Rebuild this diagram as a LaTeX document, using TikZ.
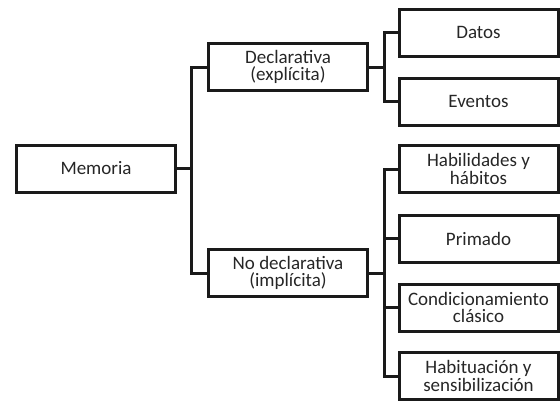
\documentclass[tikz,border=0pt]{standalone}
\usepackage{fontspec}
\setmainfont{Carlito}
\definecolor{linea}{HTML}{1A1A1A}
\definecolor{texto}{HTML}{262626}
\tikzset{
  caja/.style = {draw = linea, line width = 3pt, inner sep = 0pt,
                 minimum width = 159pt, minimum height = 47pt,
                 align = center, text = texto,
                 font = \fontsize{19}{17.5}\selectfont},
  rama/.style = {draw = linea, line width = 3pt, line cap = rect}
}
\begin{document}
\begin{tikzpicture}[x = 1pt, y = -1pt]
            \useasboundingbox (0, 0) rectangle (560, 400);

            \node [caja] (mem)    at (96, 168.5) {Memoria};
            \node [caja] (decl)   at (288, 67)   {Declarativa\\(explícita)};
            \node [caja] (nodecl) at (288, 273)  {No declarativa\\(implícita)};

            \node [caja] (datos)   at (478.5, 32.5)  {Datos};
            \node [caja] (eventos) at (478.5, 101.5) {Eventos};
            \node [caja] (habil)   at (478.5, 169)   {Habilidades y\\hábitos};
            \node [caja] (primado) at (478.5, 238.5) {Primado};
            \node [caja] (condic)  at (478.5, 307.5) {Condicionamiento\\clásico};
            \node [caja] (habit)   at (478.5, 376)   {Habituación y\\sensibilización};

            \coordinate (t1) at (191, 0);
            \coordinate (t2) at (384, 0);

            % Memoria -> Declarativa / No declarativa
            \draw [rama] (mem.east) -- (mem.east -| t1);
            \draw [rama] (decl.west) -- (decl.west -| t1)
                  -- (nodecl.west -| t1) -- (nodecl.west);

            % Declarativa -> Datos / Eventos
            \draw [rama] (decl.east) -- (decl.east -| t2);
            \draw [rama] (datos.west) -- (datos.west -| t2)
                  -- (eventos.west -| t2) -- (eventos.west);

            % No declarativa -> cuatro tipos
            \draw [rama] (nodecl.east) -- (nodecl.east -| t2);
            \draw [rama] (habil.west) -- (habil.west -| t2)
                  -- (habit.west -| t2) -- (habit.west);
            \draw [rama] (primado.west) -- (primado.west -| t2);
            \draw [rama] (condic.west) -- (condic.west -| t2);
        \end{tikzpicture}
\end{document}
